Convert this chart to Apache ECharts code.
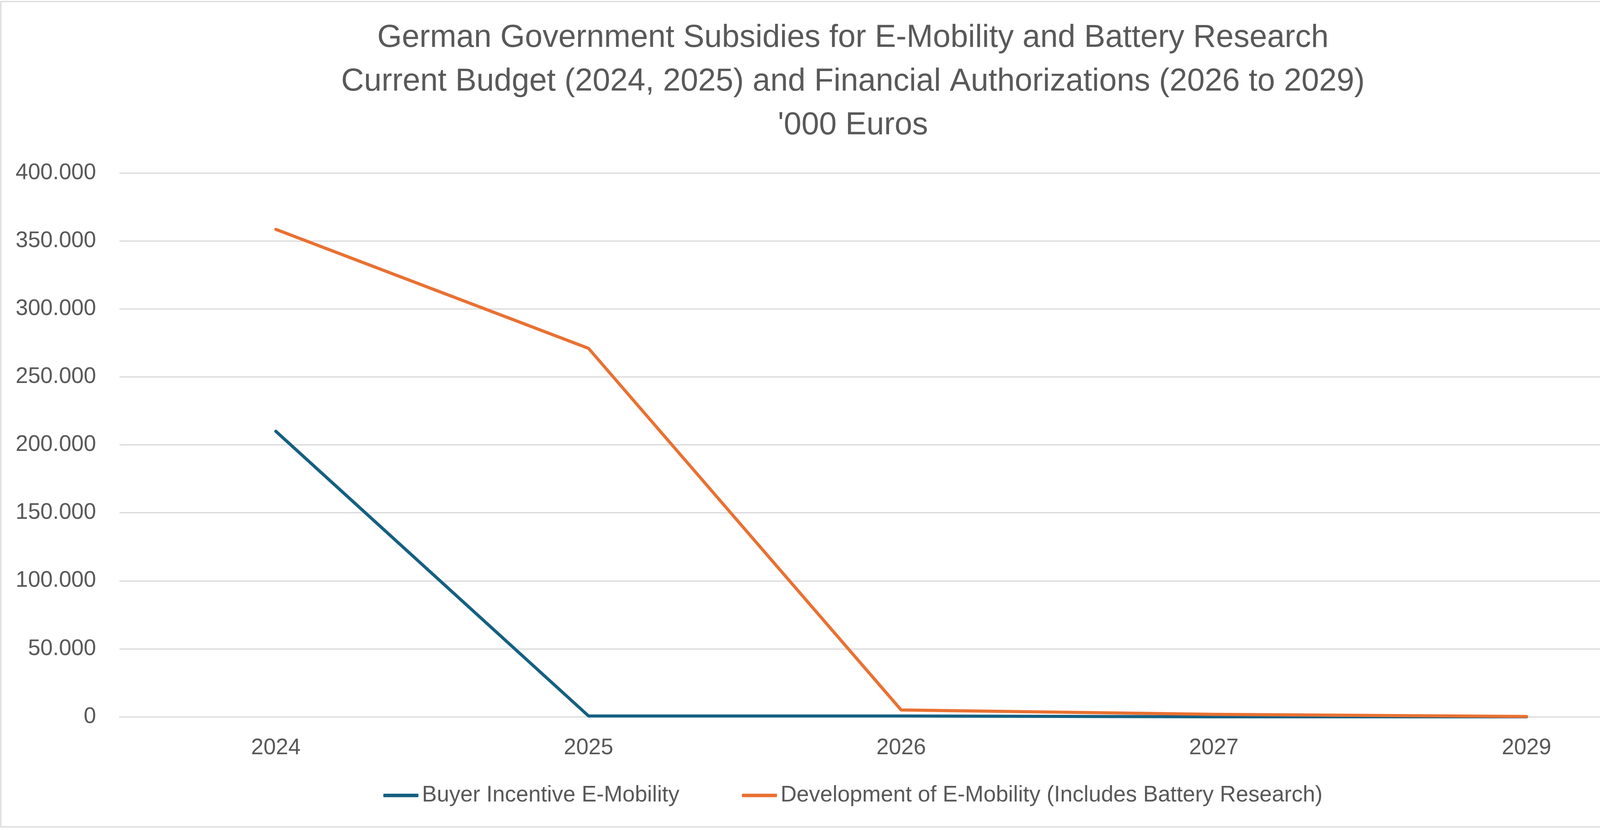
<!DOCTYPE html>
<html>
<head>
<meta charset="utf-8">
<script src="https://cdn.jsdelivr.net/npm/echarts@6/dist/echarts.min.js"></script>
<style>
html,body{margin:0;padding:0;background:#fff;}
#chart{width:4367px;height:2126px;}
</style>
</head>
<body>
<div id="chart"></div>
<script>
const titleLines = [
  "German Government Subsidies for E-Mobility and Battery Research",
  "Current Budget (2024, 2025) and Financial Authorizations (2026 to 2029)",
  "'000 Euros"
];
const categories = ["2024", "2025", "2026", "2027", "2029"];
const seriesNames = ["Buyer Incentive E-Mobility", "Development of E-Mobility (Includes Battery Research)"];
const buyerIncentive = [210000, 600, 600, 0, 0];
const development = [358500, 271000, 5000, 1800, 200];
const yTicks = { min: 0, max: 400000, interval: 50000 };

function fmt(v) {
  return String(Math.round(v)).replace(/\B(?=(\d{3})+(?!\d))/g, ".");
}

const FONT = "Liberation Sans";
const TXT = "#595959";

const chart = echarts.init(document.getElementById('chart'), null, { renderer: 'canvas' });
chart.setOption({
  backgroundColor: '#ffffff',
  animation: false,
  textStyle: { fontFamily: FONT },
  graphic: [{
    type: 'rect',
    shape: { x: 2, y: 4, width: 4357, height: 2114 },
    style: { fill: 'none', stroke: '#d9d9d9', lineWidth: 3 },
    silent: true
  }],
  title: {
    text: titleLines.join("\n"),
    left: 'center',
    top: 42,
    padding: 0,
    textStyle: {
      fontFamily: FONT,
      fontWeight: 'normal',
      fontSize: 81,
      lineHeight: 112,
      color: TXT,
      align: 'center'
    }
  },
  legend: {
    data: seriesNames,
    left: 'center',
    top: 2004,
    itemWidth: 90,
    itemHeight: 9,
    itemGap: 160,
    icon: 'roundRect',
    textStyle: { fontFamily: FONT, fontSize: 57, color: TXT, padding: [0, 0, 0, 4] }
  },
  grid: { left: 306, right: 59, top: 443, bottom: 290, containLabel: false },
  xAxis: {
    type: 'category',
    data: categories,
    boundaryGap: true,
    axisLine: { show: true, lineStyle: { color: '#d9d9d9', width: 3 } },
    axisTick: { show: false },
    axisLabel: { fontFamily: FONT, fontSize: 57, color: TXT, margin: 52 }
  },
  yAxis: {
    type: 'value',
    min: yTicks.min,
    max: yTicks.max,
    interval: yTicks.interval,
    axisLine: { show: false },
    axisTick: { show: false },
    splitLine: { show: true, lineStyle: { color: '#d9d9d9', width: 3 } },
    axisLabel: { fontFamily: FONT, fontSize: 57, color: TXT, margin: 60, formatter: fmt }
  },
  series: [
    {
      name: seriesNames[0],
      type: 'line',
      data: buyerIncentive,
      symbol: 'none',
      color: '#156082',
      lineStyle: { width: 8, color: '#156082', cap: 'round', join: 'round' }
    },
    {
      name: seriesNames[1],
      type: 'line',
      data: development,
      symbol: 'none',
      color: '#e97132',
      lineStyle: { width: 8, color: '#e97132', cap: 'round', join: 'round' }
    }
  ]
});
</script>
</body>
</html>
